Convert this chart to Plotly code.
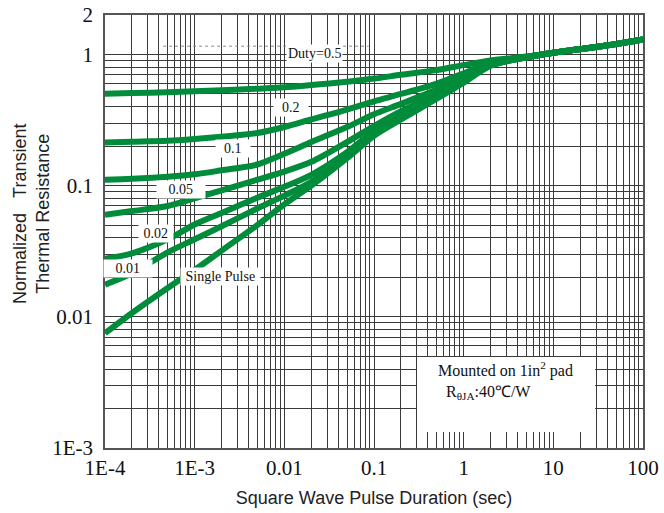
import plotly.graph_objects as go

# Square-wave pulse duration (s)
pulse_time = [1e-4, 2e-4, 5e-4, 1e-3, 2e-3, 5e-3, 1e-2, 2e-2, 5e-2, 0.1,
              0.2, 0.5, 1, 2, 5, 10, 20, 50, 100]

# Normalized transient thermal resistance for each duty cycle
duty_05 = [0.502, 0.508, 0.516, 0.524, 0.534, 0.549, 0.562, 0.585, 0.62, 0.655,
           0.70, 0.76, 0.83, 0.90, 0.965, 1.03, 1.10, 1.20, 1.30]
duty_02 = [0.213, 0.216, 0.220, 0.227, 0.236, 0.252, 0.28, 0.32, 0.38, 0.44,
           0.50, 0.60, 0.72, 0.87, 0.96, 1.03, 1.10, 1.20, 1.30]
duty_01 = [0.111, 0.113, 0.117, 0.122, 0.131, 0.145, 0.175, 0.215, 0.28, 0.35,
           0.42, 0.54, 0.68, 0.85, 0.955, 1.03, 1.10, 1.20, 1.30]
duty_005 = [0.060, 0.064, 0.070, 0.080, 0.092, 0.111, 0.128, 0.152, 0.215, 0.285,
            0.37, 0.50, 0.65, 0.84, 0.95, 1.03, 1.10, 1.20, 1.30]
duty_002 = [0.0277, 0.0305, 0.039, 0.0506, 0.062, 0.081, 0.098, 0.121, 0.18, 0.26,
            0.34, 0.48, 0.63, 0.83, 0.95, 1.03, 1.10, 1.20, 1.30]
duty_001 = [0.0176, 0.0215, 0.031, 0.039, 0.049, 0.067, 0.084, 0.107, 0.17, 0.25,
            0.33, 0.47, 0.62, 0.83, 0.95, 1.03, 1.10, 1.20, 1.30]
single_pulse = [0.0075, 0.0107, 0.0166, 0.0228, 0.032, 0.050, 0.072, 0.10, 0.162, 0.24,
                0.32, 0.46, 0.61, 0.82, 0.95, 1.03, 1.10, 1.20, 1.30]

series = [duty_05, duty_02, duty_01, duty_005, duty_002, duty_001, single_pulse]
series_names = ["Duty=0.5", "0.2", "0.1", "0.05", "0.02", "0.01", "Single Pulse"]

# Curve labels: text, position in plot-area fraction (x, y)
curve_labels = ["Duty=0.5", "0.2", "0.1", "0.05", "0.02", "0.01", "Single Pulse"]
label_pos = [(0.390, 0.912), (0.345, 0.787), (0.237, 0.692), (0.142, 0.596),
             (0.094, 0.496), (0.042, 0.415), (0.214, 0.396)]
label_pad = [0, 2, 2, 3, 1, 3, 1]

# Axis tick labels
x_decades = [1e-4, 1e-3, 1e-2, 0.1, 1, 10, 100]
x_labels = ["1E-4", "1E-3", "0.01", "0.1", "1", "10", "100"]
y_decades = [1e-3, 1e-2, 0.1, 1, 2]
y_labels = ["1E-3", "0.01", "0.1", "1", "2"]

GREEN = "#008c3a"
GRID = "#3a3a3a"


def log_grid(lo_exp, hi_exp, top):
    vals = []
    for e in range(lo_exp, hi_exp + 1):
        for m in range(2, 10):
            v = m * 10.0 ** e
            if v < top * 0.999:
                vals.append(v)
    return vals


fig = go.Figure()
for ys, name in zip(series, series_names):
    fig.add_trace(go.Scatter(
        x=pulse_time, y=ys, name=name, mode="lines",
        line=dict(color=GREEN, width=6, shape="spline", smoothing=0.8),
        showlegend=False, hoverinfo="skip",
    ))

serif = "Liberation Serif, Times New Roman, serif"
sans = "Liberation Sans, Arial, sans-serif"

annotations = []
for text, (px, py), pad in zip(curve_labels, label_pos, label_pad):
    sp = "\u00a0" * pad
    annotations.append(dict(
        x=px, y=py, xref="paper", yref="paper", xanchor="center", yanchor="middle",
        text=sp + text + sp,
        showarrow=False, bgcolor="white", borderpad=1,
        font=dict(family=serif, size=14, color="#111"),
    ))

# Mounting condition note
annotations.append(dict(
    x=0.615, y=0.157, xref="paper", yref="paper", xanchor="left", yanchor="middle",
    text="Mounted on 1in<sup>2</sup> pad<br>\u00a0\u00a0R<sub>θJA</sub>:40℃/W",
    align="left", showarrow=False,
    font=dict(family=serif, size=16, color="#111"),
))

# Y-axis title (two lines)
annotations.append(dict(
    x=-0.138, y=0.54, xref="paper", yref="paper", xanchor="center", yanchor="middle",
    textangle=-90,
    text="Normalized\u00a0\u00a0\u00a0Transient<br>Thermal Resistance",
    showarrow=False, font=dict(family=sans, size=18, color="#222"),
))

shapes = [
    dict(type="rect", xref="paper", yref="paper", x0=0.58, x1=0.911, y0=0.037, y1=0.21,
         fillcolor="white", line=dict(width=0), layer="above"),
    dict(type="line", xref="paper", yref="paper", x0=0.108, x1=0.49, y0=0.928, y1=0.928,
         line=dict(color="#888", width=1, dash="dot"), layer="above"),
]

fig.update_layout(
    width=664, height=513,
    margin=dict(l=105, r=21, t=15, b=65, autoexpand=False),
    paper_bgcolor="white", plot_bgcolor="white",
    annotations=annotations, shapes=shapes,
    xaxis=dict(
        type="log", range=[-4, 2], automargin=False,
        tickmode="array", tickvals=x_decades, ticktext=x_labels,
        minor=dict(tickmode="array", tickvals=log_grid(-4, 1, 100), showgrid=True,
                   gridcolor=GRID, gridwidth=1, ticks=""),
        showgrid=True, gridcolor=GRID, gridwidth=1,
        showline=True, linecolor="#555", linewidth=1.5, mirror=True,
        ticks="", tickfont=dict(family=serif, size=21, color="#111"),
        title=dict(text="Square Wave Pulse Duration (sec)",
                   font=dict(family=sans, size=18, color="#222"), standoff=12),
        zeroline=False,
    ),
    yaxis=dict(
        type="log", range=[-3, 0.30103], automargin=False,
        tickmode="array", tickvals=y_decades, ticktext=y_labels,
        minor=dict(tickmode="array", tickvals=log_grid(-3, 0, 2), showgrid=True,
                   gridcolor=GRID, gridwidth=1, ticks=""),
        showgrid=True, gridcolor=GRID, gridwidth=1,
        showline=True, linecolor="#555", linewidth=1.5, mirror=True,
        ticks="", tickfont=dict(family=serif, size=21, color="#111"),
        ticklabelstandoff=6,
        zeroline=False,
    ),
)

fig.write_html("out.html")
